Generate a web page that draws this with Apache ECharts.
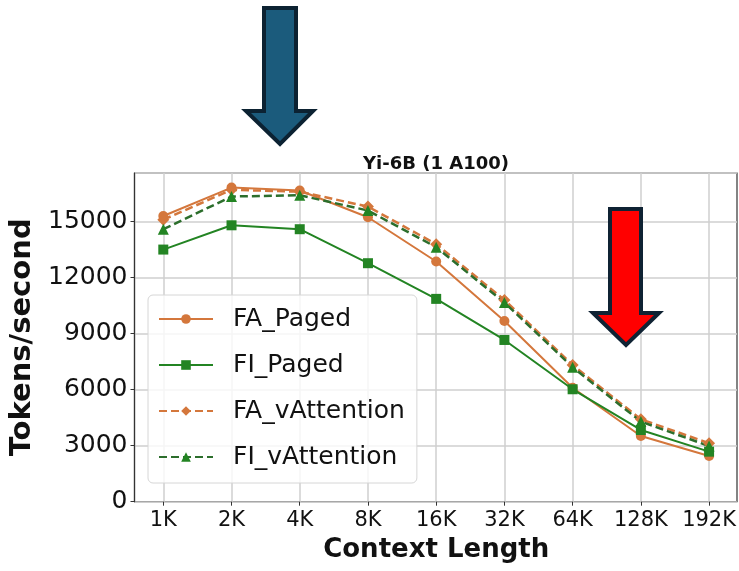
<!DOCTYPE html>
<html>
<head>
<meta charset="utf-8">
<script src="https://cdn.jsdelivr.net/npm/echarts@6/dist/echarts.min.js"></script>
<style>
  html, body { margin: 0; padding: 0; background: #fff; }
  #chart { width: 739px; height: 571px; }
</style>
</head>
<body>
<div id="chart"></div>
<script>
// Throughput of Yi-6B on one A100 across context lengths
const contextLengths = ['1K', '2K', '4K', '8K', '16K', '32K', '64K', '128K', '192K'];
const faPaged      = [15300, 16820, 16660, 15230, 12860, 9680, 6100, 3520, 2450];
const fiPaged      = [13500, 14800, 14590, 12770, 10860, 8660, 6020, 3840, 2680];
const faVAttention = [15100, 16700, 16600, 15800, 13790, 10800, 7320, 4410, 3130];
const fiVAttention = [14590, 16340, 16410, 15590, 13630, 10660, 7200, 4290, 2980];
const yTicks = [0, 3000, 6000, 9000, 12000, 15000];

const FONT = 'DejaVu Sans';
const ORANGE = '#D4773C';
const GREEN = '#238423';
const GREEN_DASH = '#2C6E2C';
const Y_MAX = 17600;

const chart = echarts.init(document.getElementById('chart'), null, { renderer: 'canvas' });

function lineSeries(name, data, color, lineColor, symbol, size, dashed) {
  return {
    name, type: 'line', data,
    xAxisIndex: 0, yAxisIndex: 0,
    symbol, symbolSize: size,
    itemStyle: { color },
    lineStyle: { color: lineColor, width: dashed ? 2.5 : 2, type: dashed ? [8, 4] : 'solid' },
    emphasis: { disabled: true },
    animation: false
  };
}

const option = {
  backgroundColor: '#ffffff',
  animation: false,
  title: {
    text: 'Yi-6B (1 A100)',
    left: 358, top: 150,
    textStyle: { fontFamily: FONT, fontSize: 18, fontWeight: 'bold', color: '#111' }
  },
  legend: {
    orient: 'vertical',
    left: 148, top: 295,
    padding: [11, 12, 13, 10],
    itemWidth: 54, itemHeight: 12,
    itemGap: 20,
    backgroundColor: 'rgba(255,255,255,0.8)',
    borderColor: '#d6d6d6', borderWidth: 1, borderRadius: 5,
    textStyle: { fontFamily: FONT, fontSize: 25, color: '#111', lineHeight: 26, padding: [0, 0, 0, 15] },
    data: ['FA_Paged', 'FI_Paged', 'FA_vAttention', 'FI_vAttention']
  },
  grid: [
    { left: 163.3, right: 28.3, top: 173, bottom: 69.3 },
    { left: 134.5, right: 2, top: 173, bottom: 69.3, show: true, borderColor: '#333', borderWidth: 1.2, backgroundColor: 'transparent' }
  ],
  xAxis: [
    {
      gridIndex: 0, type: 'category', data: contextLengths, boundaryGap: false,
      axisLine: { show: false },
      axisTick: { show: true, interval: 0, length: 4, lineStyle: { color: '#333' } },
      axisLabel: { interval: 0, fontFamily: FONT, fontSize: 21, color: '#111', margin: 8 },
      splitLine: { show: true, interval: 0, lineStyle: { color: '#cfcfcf', width: 1.5 } },
      name: 'Context Length', nameLocation: 'middle', nameGap: 36,
      nameTextStyle: { fontFamily: FONT, fontSize: 26, fontWeight: 'bold', color: '#111' }
    },
    { gridIndex: 1, type: 'value', min: 0, max: 1, show: false }
  ],
  yAxis: [
    { gridIndex: 0, type: 'value', min: 0, max: Y_MAX, show: false },
    {
      gridIndex: 1, type: 'value', min: 0, max: Y_MAX, interval: 3000,
      axisLine: { show: true, lineStyle: { color: '#333', width: 1.2 } },
      axisTick: { show: true, length: 4, lineStyle: { color: '#333' } },
      axisLabel: {
        fontFamily: FONT, fontSize: 25, color: '#111', margin: 7,
        showMaxLabel: false,
        formatter: v => (yTicks.indexOf(v) >= 0 ? String(v) : '')
      },
      splitLine: { show: true, lineStyle: { color: '#cfcfcf', width: 1.5 } },
      name: 'Tokens/second', nameLocation: 'middle', nameGap: 89,
      nameTextStyle: { fontFamily: FONT, fontSize: 29, fontWeight: 'bold', color: '#111' }
    }
  ],
  series: [
    lineSeries('FA_Paged', faPaged, ORANGE, ORANGE, 'circle', 10, false),
    lineSeries('FI_Paged', fiPaged, GREEN, GREEN, 'rect', 10, false),
    lineSeries('FA_vAttention', faVAttention, ORANGE, ORANGE, 'diamond', 12, true),
    lineSeries('FI_vAttention', fiVAttention, GREEN, GREEN_DASH, 'triangle', 11, true)
  ],
  graphic: [
    {
      type: 'polygon', z: 100,
      shape: { points: [[264, 8], [296, 8], [296, 111], [313, 111], [280, 144], [246, 111], [264, 111]] },
      style: { fill: '#1B5B7C', stroke: '#0C2232', lineWidth: 4, lineJoin: 'miter' }
    },
    {
      type: 'polygon', z: 100,
      shape: { points: [[610, 209], [641, 209], [641, 313], [659, 313], [626, 345], [593, 313], [610, 313]] },
      style: { fill: '#FF0000', stroke: '#0F2233', lineWidth: 4, lineJoin: 'miter' }
    }
  ]
};

chart.setOption(option);
</script>
</body>
</html>
